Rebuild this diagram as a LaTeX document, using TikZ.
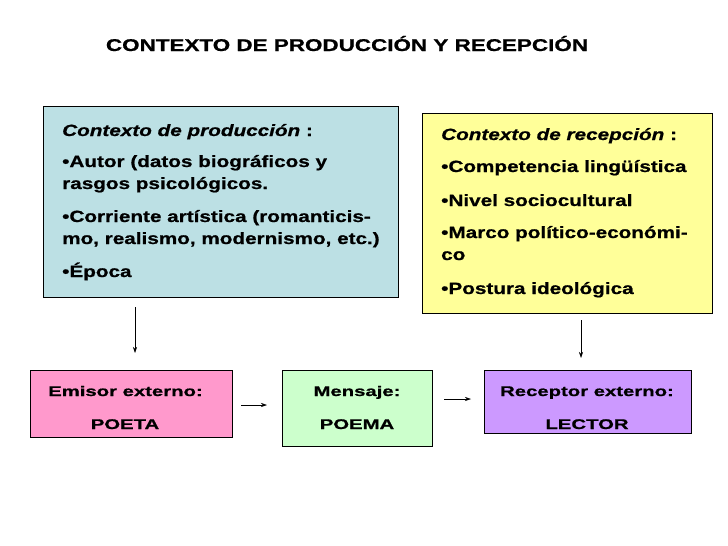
\documentclass[tikz,border=0pt]{standalone}
\usepackage{fontspec}
\setmainfont{Liberation Sans}
\newfontfamily\titlefont[FakeStretch=1.32,FakeBold=0.8]{Liberation Sans}
\newfontfamily\boxfont[FakeStretch=1.27,FakeBold=0.8]{Liberation Sans}
\newfontfamily\botfont[FakeStretch=1.45,FakeBold=0.8]{Liberation Sans}
\usetikzlibrary{arrows.meta}
\definecolor{prodblue}{RGB}{188,224,228}
\definecolor{recyellow}{RGB}{255,255,153}
\definecolor{empink}{RGB}{255,153,204}
\definecolor{mengreen}{RGB}{204,255,204}
\definecolor{recpurple}{RGB}{204,153,255}
\tikzset{
  box/.style={draw=black, line width=0.8pt, inner sep=0pt, anchor=north west},
  ln/.style={anchor=base west, inner sep=0pt, font=\boxfont\fontsize{16.3}{20}\selectfont\bfseries},
  bl/.style={anchor=base west, inner sep=0pt, font=\botfont\fontsize{14}{18}\selectfont\bfseries},
  cl/.style={anchor=base, inner sep=0pt, font=\botfont\fontsize{14}{18}\selectfont\bfseries},
  arr/.style={-{Stealth[length=6pt,width=4pt]}, line width=0.6pt}
}
\begin{document}
\begin{tikzpicture}[x=1pt,y=-1pt]
\useasboundingbox (0,0) rectangle (728,546);
\node[anchor=base, inner sep=0pt, font=\titlefont\fontsize{17}{20}\selectfont\bfseries] (title) at (347,51) {CONTEXTO DE PRODUCCIÓN Y RECEPCIÓN};
% boxes
\node[box, fill=prodblue, minimum width=355pt, minimum height=191pt] (prod) at (43,106) {};
\node[box, fill=recyellow, minimum width=290pt, minimum height=200pt] (rec) at (422,113) {};
\node[box, fill=empink, minimum width=202pt, minimum height=67pt] (emi) at (30,370) {};
\node[box, fill=mengreen, minimum width=150pt, minimum height=76pt] (men) at (282,370) {};
\node[box, fill=recpurple, minimum width=207pt, minimum height=63pt] (recep) at (484,370) {};
% production text
\node[ln] (p1) at (62,136) {\itshape Contexto de producción\upshape\ :};
\node[ln] (p2) at (62,167) {•Autor (datos biográficos y};
\node[ln] (p3) at (62,189) {rasgos psicológicos.};
\node[ln] (p4) at (62,222) {•Corriente artística (romanticis-};
\node[ln] (p5) at (62,244) {mo, realismo, modernismo, etc.)};
\node[ln] (p6) at (62,277) {•Época};
% reception text
\node[ln] (r1) at (441,140) {\itshape Contexto de recepción\upshape\ :};
\node[ln] (r2) at (441,172) {•Competencia lingüística};
\node[ln] (r3) at (441,206) {•Nivel sociocultural};
\node[ln] (r4) at (441,238) {•Marco político-económi-};
\node[ln] (r5) at (441,260) {co};
\node[ln] (r6) at (441,294) {•Postura ideológica};
% bottom texts
\node[bl] (e1) at (48,396) {Emisor externo:};
\node[cl] (e2) at (125,429) {POETA};
\node[cl] (m1) at (357,396) {Mensaje:};
\node[cl] (m2) at (357,429) {POEMA};
\node[cl] (c1) at (587,396) {Receptor externo:};
\node[cl] (c2) at (587,429) {LECTOR};
% arrows
\coordinate (a1s) at (135,307);
\coordinate (a1e) at (135,353);
\coordinate (a2s) at (581,320);
\coordinate (a2e) at (581,358);
\coordinate (a3s) at (241,405);
\coordinate (a3e) at (267,405);
\coordinate (a4s) at (444,399);
\coordinate (a4e) at (471,399);
\draw[arr] (a1s) -- (a1e);
\draw[arr] (a2s) -- (a2e);
\draw[arr] (a3s) -- (a3e);
\draw[arr] (a4s) -- (a4e);
\end{tikzpicture}
\end{document}
